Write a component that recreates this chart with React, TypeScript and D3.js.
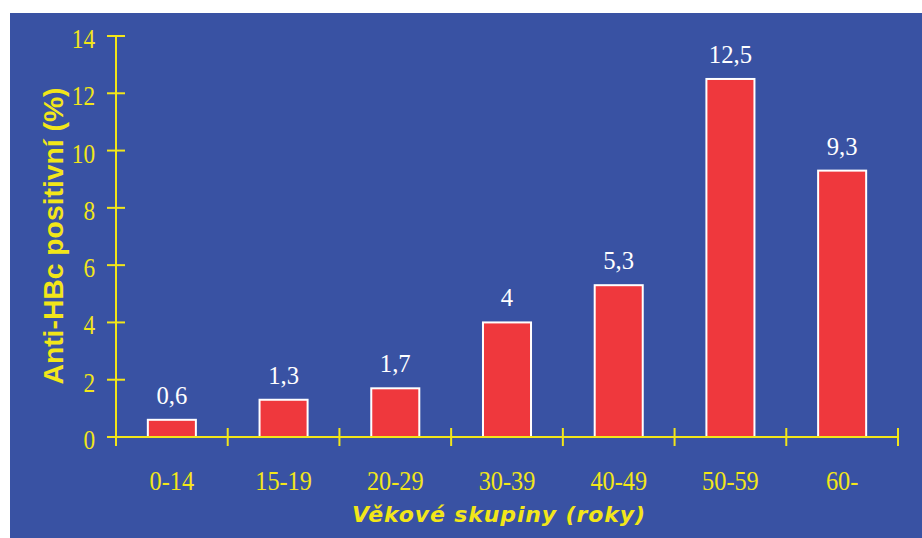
import React from "react";
import * as d3 from "d3";

const categories = ["0-14", "15-19", "20-29", "30-39", "40-49", "50-59", "60-"];
const values = [0.6, 1.3, 1.7, 4, 5.3, 12.5, 9.3];
const yTicks = [0, 2, 4, 6, 8, 10, 12, 14];

const W = 922;
const H = 538;
const BG = "#3952a3";
const YELLOW = "#f2e619";
const RED = "#ef383d";
const SERIF = "'Liberation Serif', 'Times New Roman', serif";

export default function App() {
  const x0 = 116;
  const x1 = 898;
  const y0 = 437;
  const y1 = 36;

  const x = d3.scaleBand<string>()
    .domain(categories)
    .range([x0, x1])
    .paddingInner(0.57)
    .paddingOuter(0.285);
  const y = d3.scaleLinear().domain([0, 14]).range([y0, y1]);
  const step = x.step();
  // boundaries between groups, where the x ticks go
  const bounds = d3.range(categories.length + 1).map(i => x0 + i * step);

  const fmt = (v: number) => String(v).replace(".", ",");

  return (
    <svg width={W} height={H} style={{ position: "absolute", left: 0, top: 0 }}>
      <rect x={10} y={13} width={W - 10} height={H - 13} fill={BG} />

      {/* bars */}
      {values.map((v, i) => {
        const cx = x(categories[i])! + x.bandwidth() / 2;
        return (
          <g key={categories[i]}>
            <rect
              x={x(categories[i])!}
              y={y(v)}
              width={x.bandwidth()}
              height={y0 - y(v)}
              fill={RED}
              stroke="#ffffff"
              strokeWidth={2}
            />
            <g transform={`translate(${cx},${y(v) - 16}) scale(0.95,1)`}>
              <text textAnchor="middle" fill="#ffffff" fontFamily={SERIF} fontSize={26}>
                {fmt(v)}
              </text>
            </g>
          </g>
        );
      })}

      {/* y axis */}
      <line x1={x0} x2={x0} y1={y1} y2={y0 + 9} stroke={YELLOW} strokeWidth={2} />
      {yTicks.map(t => (
        <g key={t}>
          <line x1={x0 - 9} x2={x0 + 9} y1={y(t)} y2={y(t)} stroke={YELLOW} strokeWidth={2} />
          <g transform={`translate(95,${y(t) + 12}) scale(0.83,1)`}>
            <text textAnchor="end" fill={YELLOW} fontFamily={SERIF} fontSize={28}>
              {t}
            </text>
          </g>
        </g>
      ))}

      {/* x axis */}
      <line x1={x0} x2={x1} y1={y0} y2={y0} stroke={YELLOW} strokeWidth={2} />
      {bounds.map((b, i) => (
        <line key={i} x1={b} x2={b} y1={y0 - 9} y2={y0 + 9} stroke={YELLOW} strokeWidth={2} />
      ))}
      {categories.map(c => (
        <g key={c} transform={`translate(${x(c)! + x.bandwidth() / 2},490) scale(0.9,1)`}>
          <text textAnchor="middle" fill={YELLOW} fontFamily={SERIF} fontSize={27}>
            {c}
          </text>
        </g>
      ))}

      {/* titles */}
      <text
        transform="translate(63,236) rotate(-90)"
        textAnchor="middle"
        fill={YELLOW}
        fontFamily="'Liberation Sans', Arial, sans-serif"
        fontWeight="bold"
        fontSize={28}
        textLength={297}
        lengthAdjust="spacingAndGlyphs"
      >
        Anti-HBc positivní (%)
      </text>
      <text
        x={352}
        y={522}
        fill={YELLOW}
        fontFamily="'DejaVu Sans', sans-serif"
        fontWeight="bold"
        fontStyle="italic"
        fontSize={22}
        textLength={293}
        lengthAdjust="spacing"
      >
        Věkové skupiny (roky)
      </text>
    </svg>
  );
}
